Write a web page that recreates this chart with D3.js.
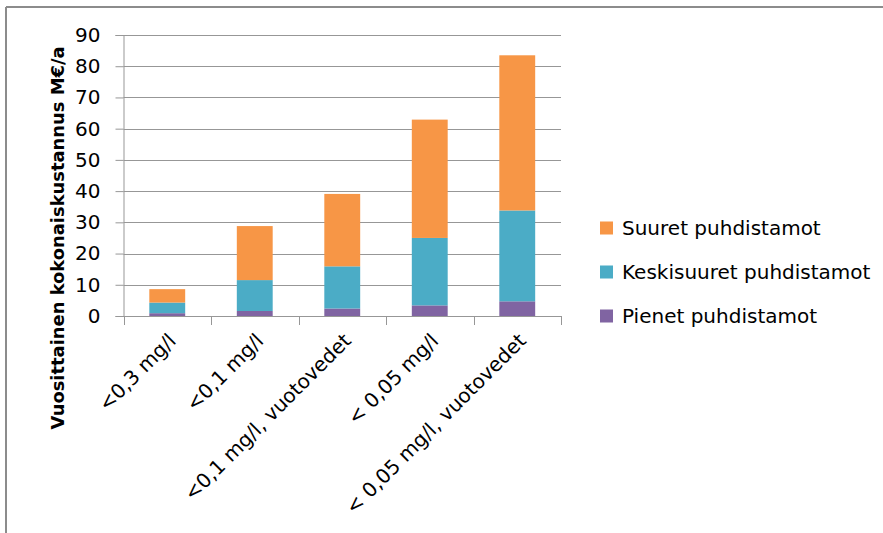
<!DOCTYPE html>
<html>
<head>
<meta charset="utf-8">
<script src="https://cdn.jsdelivr.net/npm/d3@7/dist/d3.min.js"></script>
<style>
  html, body { margin: 0; padding: 0; background: #fff; }
  svg { display: block; }
  text { font-family: "DejaVu Sans", sans-serif; fill: #000; }
</style>
</head>
<body>
<svg id="chart" width="883" height="533"></svg>
<script>
// Annual total cost (M€/a) by phosphorus target, split by plant size
const categories = ["<0,3 mg/l", "<0,1 mg/l", "<0,1 mg/l, vuotovedet", "< 0,05 mg/l", "< 0,05 mg/l, vuotovedet"];
const pienet      = [0.9, 1.6, 2.4, 3.4, 4.7];
const keskisuuret = [3.4, 9.9, 13.5, 21.6, 29.1];
const suuret      = [4.3, 17.3, 23.2, 37.9, 49.7];
const seriesNames = ["Pienet puhdistamot", "Keskisuuret puhdistamot", "Suuret puhdistamot"];
const seriesColors = ["#8064A2", "#4BACC6", "#F79646"];
const yTicks = [0, 10, 20, 30, 40, 50, 60, 70, 80, 90];
const yTitle = "Vuosittainen kokonaiskustannus M€/a";

const svg = d3.select("#chart");

// frame lines (top and left)
svg.append("line").attr("x1", 6).attr("x2", 883).attr("y1", 7).attr("y2", 7)
  .attr("stroke", "#8c8c8c").attr("stroke-width", 2);
svg.append("line").attr("x1", 6).attr("x2", 6).attr("y1", 7).attr("y2", 533)
  .attr("stroke", "#8c8c8c").attr("stroke-width", 2);

const plot = { left: 123.5, right: 561, top: 35, bottom: 316 };

const x = d3.scaleBand().domain(categories)
  .range([plot.left, plot.right]).paddingInner(0.59).paddingOuter(0.295);
const y = d3.scaleLinear().domain([0, 90]).range([plot.bottom, plot.top]);

// gridlines and y ticks
const yAxis = d3.axisLeft(y).tickValues(yTicks).tickSize(8).tickPadding(15).tickFormat(d3.format("d"));
const gy = svg.append("g").attr("transform", `translate(${plot.left},0)`).call(yAxis);
gy.select(".domain").attr("stroke", "#979797");
gy.selectAll(".tick line").attr("stroke", "#979797");
gy.selectAll(".tick text").attr("font-size", 20).attr("fill", "#000")
  .attr("font-family", "DejaVu Sans");
svg.append("g").selectAll("line").data(yTicks.filter(d => d > 0)).join("line")
  .attr("x1", plot.left).attr("x2", plot.right)
  .attr("y1", d => Math.round(y(d)) + 0.5).attr("y2", d => Math.round(y(d)) + 0.5)
  .attr("stroke", "#979797").attr("stroke-width", 1);

// stacked bars
const rows = categories.map((c, i) => ({ cat: c, "Pienet puhdistamot": pienet[i],
  "Keskisuuret puhdistamot": keskisuuret[i], "Suuret puhdistamot": suuret[i] }));
const stacked = d3.stack().keys(seriesNames)(rows);
svg.append("g").selectAll("g").data(stacked).join("g")
  .attr("fill", (d, i) => seriesColors[i])
  .selectAll("rect").data(d => d).join("rect")
  .attr("x", d => x(d.data.cat))
  .attr("width", x.bandwidth())
  .attr("y", d => y(d[1]))
  .attr("height", d => y(d[0]) - y(d[1]));

// category axis with ticks at band boundaries
svg.append("line").attr("x1", plot.left).attr("x2", plot.right)
  .attr("y1", plot.bottom + 0.5).attr("y2", plot.bottom + 0.5).attr("stroke", "#979797");
const bounds = d3.range(categories.length + 1).map(i => plot.left + i * x.step());
svg.append("g").selectAll("line").data(bounds).join("line")
  .attr("x1", d => Math.round(d) + 0.5).attr("x2", d => Math.round(d) + 0.5)
  .attr("y1", plot.bottom).attr("y2", plot.bottom + 9).attr("stroke", "#979797");

svg.append("g").selectAll("text").data(categories).join("text")
  .attr("transform", d => `translate(${x(d) + x.bandwidth() / 2 + 10},${plot.bottom + 26}) rotate(-45)`)
  .attr("text-anchor", "end")
  .attr("font-size", 20)
  .text(d => d);

// y axis title
svg.append("text")
  .attr("transform", `translate(64,${(43 + 433) / 2}) rotate(-90)`)
  .attr("text-anchor", "middle")
  .attr("font-size", 17.9)
  .attr("font-weight", "bold")
  .text(yTitle);

// legend (top series first)
const legendOrder = [2, 1, 0];
const lg = svg.append("g").selectAll("g").data(legendOrder).join("g")
  .attr("transform", (d, i) => `translate(600,${228 + i * 44})`);
lg.append("rect").attr("x", 0).attr("y", -6.5).attr("width", 13).attr("height", 13)
  .attr("fill", d => seriesColors[d]);
lg.append("text").attr("x", 22).attr("dy", "0.35em").attr("font-size", 20)
  .text(d => seriesNames[d]);
</script>
</body>
</html>
